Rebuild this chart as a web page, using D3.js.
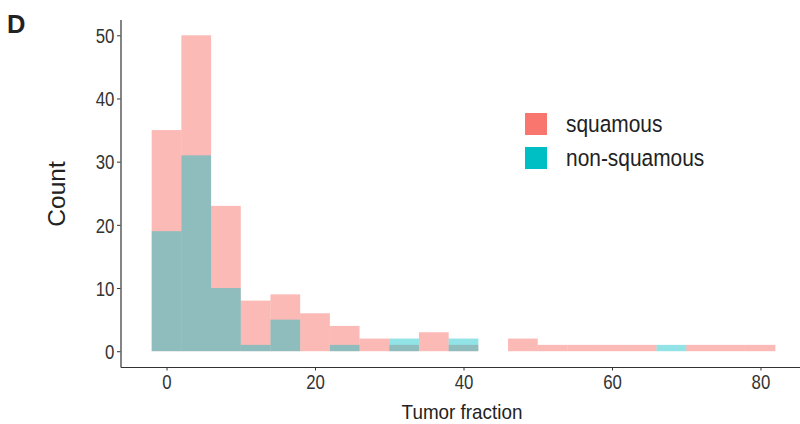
<!DOCTYPE html>
<html>
<head>
<meta charset="utf-8">
<script src="https://d3js.org/d3.v7.min.js"></script>
<style>
  body { margin: 0; background: #fff; }
  svg text { font-family: "Liberation Sans", Arial, sans-serif; }
</style>
</head>
<body>
<svg id="chart"></svg>
<script>
    // histogram bins (width 4, centred on these values)
    var binCenters = [0, 4, 8, 12, 16, 20, 24, 28, 32, 36, 40, 44, 48, 52, 56, 60, 64, 68, 72, 76, 80];
    var squamous = [35, 50, 23, 8, 9, 6, 4, 2, 1, 3, 1, 0, 2, 1, 1, 1, 1, 0, 1, 1, 1];
    var nonSquamous = [19, 31, 10, 1, 5, 0, 1, 0, 2, 0, 2, 0, 0, 0, 0, 0, 0, 1, 0, 0, 0];
    var groups = ["squamous", "non-squamous"];
    var groupColors = ["#F8766D", "#00BFC4"];
    var xTicks = [0, 20, 40, 60, 80];
    var yTicks = [0, 10, 20, 30, 40, 50];
    var binWidth = 4;

    var W = 800, H = 424;
    var svg = d3.select("#chart").attr("width", W).attr("height", H);

    var x = d3.scaleLinear().domain([-6.2, 86.2]).range([120.5, 806.5]);
    var y = d3.scaleLinear().domain([-2.5, 52.5]).range([367, 19.5]);

    var series = [
        { name: groups[0], color: groupColors[0], values: squamous, alpha: 0.5 },
        { name: groups[1], color: groupColors[1], values: nonSquamous, alpha: 0.43 }
    ];

    series.forEach(function(s) {
        var data = binCenters.map(function(c, i) { return { c: c, n: s.values[i] }; })
            .filter(function(d) { return d.n > 0; });
        svg.append("g").selectAll("rect")
            .data(data)
            .enter().append("rect")
            .attr("x", d => x(d.c - binWidth / 2))
            .attr("width", d => x(d.c + binWidth / 2) - x(d.c - binWidth / 2))
            .attr("y", d => y(d.n))
            .attr("height", d => y(0) - y(d.n))
            .style("fill", s.color)
            .style("fill-opacity", s.alpha);
    });

    // axes
    var xAxis = svg.append("g")
        .attr("transform", "translate(0," + 367 + ")")
        .call(d3.axisBottom(x).tickValues(xTicks).tickSize(3.5).tickPadding(4).tickSizeOuter(0));
    var yAxis = svg.append("g")
        .attr("transform", "translate(" + 120.5 + ",0)")
        .call(d3.axisLeft(y).tickValues(yTicks).tickSize(3.5).tickPadding(4).tickSizeOuter(0));

    [xAxis, yAxis].forEach(function(a) {
        a.select(".domain").style("stroke", "#333").style("stroke-width", 1.2);
        a.selectAll(".tick line").style("stroke", "#333");
        // tick labels in the original are a bit taller and narrower
        a.selectAll(".tick text")
            .style("fill", "#333").style("font-size", "20.5px")
            .attr("transform", "scale(0.82,1)");
    });
    yAxis.selectAll(".tick text").attr("dy", "0.35em");

    // titles
    svg.append("text")
        .attr("transform", "translate(462,419) scale(0.92,1)")
        .attr("text-anchor", "middle")
        .style("font-size", "20.5px").style("fill", "#222")
        .text("Tumor fraction");
    svg.append("text")
        .attr("transform", "translate(65,194) rotate(-90)")
        .attr("text-anchor", "middle")
        .style("font-size", "24.5px").style("fill", "#222")
        .text("Count");
    svg.append("text")
        .attr("x", 7).attr("y", 33)
        .style("font-size", "25.5px").style("font-weight", "bold").style("fill", "#222")
        .text("D");

    // legend
    var legend = svg.append("g").attr("transform", "translate(525,113)");
    var item = legend.selectAll("g")
        .data(series)
        .enter().append("g")
        .attr("transform", (d, i) => "translate(0," + (i * 34) + ")");
    item.append("rect")
        .attr("width", 22).attr("height", 22)
        .style("fill", d => d.color);
    item.append("text")
        .attr("transform", "translate(41,11) scale(0.89,1)")
        .attr("dy", "0.36em")
        .style("font-size", "23.5px").style("fill", "#222")
        .text(d => d.name);
</script>
</body>
</html>
